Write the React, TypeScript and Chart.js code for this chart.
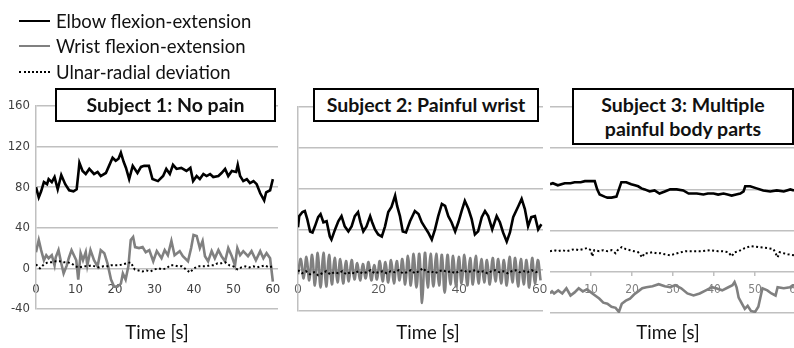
import React, { useEffect, useRef } from "react";
import { Chart, registerables } from "chart.js";

Chart.register(...registerables);

type Pt = [number, number];

// ---------- Subject 1: No pain ----------
const P1_ELBOW: Pt[] = [
  [0, 80], [0.7, 70], [1.3, 76], [2, 85], [2.8, 83], [3.2, 88], [4, 85], [4.7, 90], [5.5, 78], [6.4, 92],
  [7.4, 83], [8.4, 77], [9.5, 76], [10.3, 78], [10.8, 96], [11, 104], [11.8, 96], [12.6, 93], [13.5, 98], [14.7, 93],
  [15.6, 95], [16.4, 91], [17.7, 94], [18.5, 101], [19.4, 109], [20.2, 106], [20.9, 108], [21.5, 114], [22.2, 105], [22.8, 99],
  [23.6, 88], [24.5, 101], [25.7, 94], [26.6, 100], [27.4, 101], [28.6, 101], [29.5, 88], [30.9, 86], [32.2, 91], [33, 98],
  [33.9, 93], [34.7, 102], [35.6, 98], [36.8, 99], [38.1, 96], [39.1, 99], [39.8, 86], [40.7, 91], [41.5, 88], [42.4, 93],
  [43.2, 91], [44.1, 93], [44.9, 90], [46.2, 91], [47, 94], [47.9, 98], [48.7, 91], [49.6, 96], [50.7, 95], [51.1, 102],
  [51.7, 91], [52.5, 86], [53.4, 88], [54.2, 84], [55.1, 86], [55.9, 83], [56.8, 74], [57.8, 67], [58.3, 75], [59.3, 77],
  [60, 88],
];
const P1_WRIST: Pt[] = [
  [0, 16], [0.7, 28], [1.3, 18], [2, 8], [2.6, 13], [3.2, 10], [4, 13], [4.7, 3], [5, 11], [5.7, 18],
  [6.4, 5], [7, -5], [7.8, 3], [8.3, 10], [9, 18], [9.6, 13], [10.2, 8], [10.7, -11], [11.3, 15], [11.9, 8],
  [12.6, 16], [13, 3], [13.8, 18], [14.7, 8], [15.6, 2], [16.4, 18], [17.3, 15], [18.1, 5], [19, -11], [19.8, -18],
  [20.6, -18], [21.5, -15], [22, -5], [22.7, -11], [23.4, 2], [24, 28], [24.6, 31], [25.1, 21], [26.1, 20], [27, 21],
  [27.8, 16], [28.7, 18], [29.7, 7], [30.6, 17], [31.8, 10], [32.6, 18], [33.4, 13], [34.3, 27], [35.1, 13], [36.4, 17],
  [37.2, 12], [38.5, 7], [39.3, 20], [39.9, 33], [40.7, 32], [41.5, 20], [42.2, 27], [42.8, 12], [43.6, 7], [44.5, 17],
  [45.3, 10], [46.2, 18], [47, 12], [47.9, 7], [48.7, 20], [49.6, 12], [50.4, 3], [51, 20], [51.7, 13], [52.5, 17],
  [53.7, 12], [54.6, 17], [55.7, 8], [56.8, 17], [57.6, 10], [58.4, 15], [59.3, 10], [60, -13],
];
const P1_ULNAR: Pt[] = [
  [0, 4], [1, 0], [2, 4], [3, 6], [4, 6], [5, 7], [6, 7], [7, 6], [8, 6], [9, 5], [10, 2], [11, 1], [12, 2],
  [13, 2], [14, 3], [15, 2], [16, 1], [17, 2], [18, 2], [19, 3], [20, 3], [21, 3], [22, 4], [23, 5], [24, 6],
  [25, -1], [26, -2], [27, -3], [28, -2], [29, -3], [30, -1], [31, 0], [32, -1], [33, 0], [34, 3], [35, 3],
  [36, 2], [37, 2], [38, -1], [39, -4], [40, 0], [41, 2], [42, 2], [43, 2], [44, 3], [45, 3], [46, 5], [47, 5],
  [48, 6], [49, 3], [50, 2], [51, -1], [52, 1], [53, 2], [54, 1], [55, 2], [56, 1], [57, 2], [58, 3], [59, 1], [60, 2],
];

// ---------- Subject 2: Painful wrist ----------
const P2_ELBOW: Pt[] = [
  [0, 42], [0.3, 53], [1.1, 57], [1.7, 58], [2.3, 50], [3, 38], [3.6, 37], [4.2, 43], [5, 52], [5.6, 55],
  [6.3, 47], [7.1, 48], [7.9, 33], [8.3, 30], [9.2, 40], [10, 48], [10.8, 53], [11.6, 43], [12.5, 38], [13.3, 43],
  [14.1, 53], [14.9, 57], [15.5, 47], [16.2, 38], [17, 43], [17.9, 53], [18.4, 47], [19.1, 40], [19.9, 35], [20.8, 33],
  [21.6, 43], [22.4, 57], [23.2, 62], [24.1, 73], [24.6, 63], [25.3, 53], [26, 38], [26.8, 37], [27.8, 48], [29, 58],
  [29.9, 55], [30.7, 47], [31.5, 42], [32.3, 37], [33.2, 30], [34, 40], [34.8, 53], [35.7, 65], [36.5, 63], [37.3, 53],
  [38.1, 47], [39, 38], [39.8, 47], [40.6, 58], [41.4, 68], [42.3, 60], [43.1, 50], [43.9, 35], [44.7, 38], [45.6, 52],
  [46.4, 58], [47.2, 53], [48.2, 40], [49.3, 53], [50.1, 47], [50.9, 37], [51.8, 28], [52.6, 37], [53.4, 52], [54.7, 63],
  [55.5, 70], [56.3, 60], [57.1, 43], [57.9, 52], [58.8, 53], [59.6, 40], [60.4, 45],
];
const P2_WRIST: Pt[] = [
  [0, -4], [0.7, 11], [1.4, -8], [2.1, 13], [2.8, -10], [3.5, 15], [4.2, -15], [4.9, 17], [5.6, -17], [6.3, 17],
  [7, -16], [7.7, 15], [8.4, -14], [9.1, 12], [9.8, -12], [10.5, 11], [11.2, -13], [11.9, 9], [12.6, -11], [13.3, 10],
  [14, -9], [14.7, 7], [15.4, -10], [16.1, 6], [16.8, -8], [17.5, 8], [18.2, -10], [18.9, 5], [19.6, -9], [20.3, 9],
  [21, -11], [21.7, 8], [22.4, -12], [23.1, 10], [23.8, -13], [24.5, 9], [25.2, -10], [25.9, 11], [26.6, -14], [27.3, 14],
  [28, -15], [28.7, 16], [29.4, -17], [30.1, 16], [30.8, -32], [31.5, 17], [32.2, -17], [32.9, 16], [33.6, -16], [34.3, 16],
  [35, -15], [35.7, 15], [36.4, -22], [37.1, 15], [37.8, -14], [38.5, 14], [39.2, -16], [39.9, 13], [40.6, -13], [41.3, 15],
  [42, -15], [42.7, 12], [43.4, -14], [44.1, 14], [44.8, -13], [45.5, 11], [46.2, -12], [46.9, 10], [47.6, -14], [48.3, 12],
  [49, -11], [49.7, 11], [50.4, -13], [51.1, 10], [51.8, -15], [52.5, 13], [53.2, -12], [53.9, 12], [54.6, -16], [55.3, 11],
  [56, -14], [56.7, 10], [57.4, -17], [58.1, 12], [58.8, -13], [59.5, 10], [60.2, -10],
];
const P2_ULNAR: Pt[] = [
  [0, 0], [1, -3], [2, -1], [3, -4], [4, -2], [5, -5], [6, -3], [7, -1], [8, -4], [9, -2], [10, -3], [11, -1],
  [12, -4], [13, -2], [14, -3], [15, -1], [16, -3], [17, -2], [18, 0], [19, -3], [20, -2], [21, -1], [22, -3],
  [23, -1], [24, -2], [25, 0], [26, -3], [27, -2], [28, 0], [29, -3], [30, -1], [31, 2], [32, -2], [33, -1],
  [34, -3], [35, -1], [36, 0], [37, -2], [38, -1], [39, -3], [40, -1], [41, 0], [42, -2], [43, -1], [44, 0],
  [45, -2], [46, -1], [47, -3], [48, -1], [49, 0], [50, -2], [51, -1], [52, -3], [53, -1], [54, 0], [55, -2],
  [56, -1], [57, -2], [58, 0], [59, -2], [60, -1],
];

// ---------- Subject 3: Multiple painful body parts ----------
const P3_ELBOW: Pt[] = [
  [0, 85], [0.7, 86], [1.9, 84], [3.6, 86], [5, 86], [6, 87], [7.5, 87], [8.5, 88], [10, 88], [10.9, 88],
  [11.5, 80], [12.1, 75], [13.3, 73], [14, 72], [15, 72], [16.2, 73], [16.8, 80], [17.4, 87], [18.6, 87], [19.8, 85],
  [20.7, 84], [21.5, 83], [22.3, 81], [23.1, 80], [24.3, 78], [25.5, 79], [26.7, 76], [28, 78], [29.3, 80], [30.9, 80],
  [32.5, 79], [33.8, 76], [35.8, 76], [37.4, 75], [38.5, 76], [39.9, 76], [41, 75], [42.3, 76], [43.3, 75], [44.3, 74],
  [45.4, 75], [46.4, 76], [47.2, 78], [47.6, 83], [48.8, 83], [50.4, 81], [52, 79], [53.7, 78], [55.3, 79], [57, 78],
  [58.6, 80], [59.5, 79],
];
const P3_WRIST: Pt[] = [
  [0, -21], [0.5, -19], [1, -21], [2, -18], [3, -21], [4, -16], [5, -23], [6, -20], [7, -16], [8, -19],
  [9, -17], [10, -20], [11, -23], [12, -26], [13, -30], [14, -31], [15, -34], [16, -35], [16.8, -39], [17.5, -31],
  [18.5, -28], [19.5, -26], [20.5, -22], [21.5, -19], [22.5, -16], [23.5, -15], [25, -14], [26.5, -12], [28, -14], [29.3, -15],
  [30.5, -13], [32, -16], [33.5, -21], [35, -23], [36.5, -21], [38, -18], [39.5, -15], [40.5, -16], [42, -18], [43.5, -15],
  [44.5, -13], [45, -10], [45.5, -15], [46, -25], [46.8, -31], [47.5, -36], [48.2, -33], [49, -38], [50, -39], [50.8, -34],
  [51.3, -25], [51.8, -16], [53, -18], [54, -21], [55, -23], [55.5, -15], [57, -16], [58.5, -15], [59.5, -13],
];
const P3_ULNAR: Pt[] = [
  [0, 20], [1, 21], [2, 20], [3, 21], [4, 20], [5, 21], [6, 22], [7, 21], [8, 22], [9, 23], [10, 21], [10.3, 15],
  [10.8, 21], [12, 20], [13, 21], [14, 20], [15, 21], [16, 18], [16.5, 21], [17.5, 24], [18.5, 22], [19.5, 21],
  [20.5, 20], [21.5, 19], [22.5, 14], [23, 18], [24, 18], [25, 19], [26, 18], [27, 18], [28, 17], [29.3, 16],
  [31, 18], [33, 20], [35, 20], [37, 20], [39, 21], [41, 20], [42, 20], [43.5, 19], [44.3, 15], [45, 19], [46, 20],
  [47, 22], [47.5, 23], [49, 25], [51, 24], [53, 23], [54.5, 22], [55.5, 14], [56, 19], [57, 18], [58, 17], [59.5, 16],
];

// ---------- axes / labels ----------
const Y_TICKS = [-40, 0, 40, 80, 120, 160];
const X_TICKS_P1 = [0, 10, 20, 30, 40, 50, 60];
const X_TICKS_P2 = [0, 20, 40, 60];
const X_TICKS_P3 = [10, 20, 30, 40, 50, 60];

const SERIES_NAMES = ["Elbow flexion-extension", "Wrist flexion-extension", "Ulnar-radial deviation"];
const PANEL_TITLES = ["Subject 1: No pain", "Subject 2: Painful wrist", "Subject 3: Multiple\npainful body parts"];
const X_TITLE = "Time [s]";

const GRID = "#c0c0c0";
const NARROW = "'Liberation Sans Narrow','DejaVu Sans Condensed','Liberation Sans',sans-serif";
const UI_FONT = "Lato, 'Open Sans', sans-serif";

type PanelProps = {
  left: number; top: number; width: number; height: number;
  padding: { left: number; right: number; top: number; bottom: number };
  yAxisWidth: number; showYLabels: boolean; showYBorder: boolean;
  xMax: number; xTicks: number[];
  xFont: { family: string; size: number }; xColor: string; xPadding: number; xTickMarks: boolean;
  elbow: Pt[]; wrist: Pt[]; ulnar: Pt[]; wristTension: number;
};

const toXY = (a: Pt[]) => a.map(([x, y]) => ({ x, y }));

function Panel(p: PanelProps) {
  const ref = useRef<HTMLCanvasElement | null>(null);
  useEffect(() => {
    if (!ref.current) return;
    const chart = new Chart(ref.current, {
      type: "line",
      data: {
        datasets: [
          { label: SERIES_NAMES[0], data: toXY(p.elbow), borderColor: "#000", borderWidth: 2.6, pointRadius: 0, tension: 0 },
          { label: SERIES_NAMES[2], data: toXY(p.ulnar), borderColor: "#000", borderWidth: 2, borderDash: [2, 2.5], pointRadius: 0, tension: 0 },
          { label: SERIES_NAMES[1], data: toXY(p.wrist), borderColor: "#808080", borderWidth: 2.6, pointRadius: 0, tension: p.wristTension },
        ],
      },
      options: {
        animation: false,
        responsive: false,
        maintainAspectRatio: false,
        layout: { padding: p.padding },
        plugins: { legend: { display: false }, tooltip: { enabled: false } },
        scales: {
          x: {
            type: "linear",
            min: 0,
            max: p.xMax,
            position: { y: 0 } as any,
            grid: { display: p.xTickMarks, drawOnChartArea: false, drawTicks: p.xTickMarks, tickLength: 4, color: GRID, lineWidth: 1.5 },
            border: { display: false },
            afterBuildTicks: (s: any) => { s.ticks = p.xTicks.map((v) => ({ value: v })); },
            afterFit: (s: any) => { s.paddingLeft = 0; s.paddingRight = 0; },
            ticks: { font: p.xFont, color: p.xColor, padding: p.xPadding, maxRotation: 0, autoSkip: false },
          },
          y: {
            type: "linear",
            min: -40,
            max: 160,
            afterBuildTicks: (s: any) => { s.ticks = Y_TICKS.map((v) => ({ value: v })); },
            afterFit: (s: any) => { s.width = p.yAxisWidth; s.paddingTop = 0; s.paddingBottom = 0; },
            grid: { color: GRID, lineWidth: 1.5, drawTicks: false },
            border: { display: p.showYBorder, color: GRID, width: 1.5 },
            ticks: { display: p.showYLabels, font: { family: NARROW, size: 13 }, color: "#404040", padding: 6 },
          },
        },
      },
    } as any);
    return () => chart.destroy();
  }, []);
  return (
    <canvas
      ref={ref}
      width={p.width}
      height={p.height}
      style={{ position: "absolute", left: p.left, top: p.top, width: p.width, height: p.height, display: "block" }}
    />
  );
}

const boxStyle = (left: number, top: number, width: number, height: number): React.CSSProperties => ({
  position: "absolute", left, top, width, height, boxSizing: "border-box", border: "2px solid #000",
  background: "#fff", display: "flex", alignItems: "center", justifyContent: "center", textAlign: "center",
  font: `bold 19.5px ${UI_FONT}`, color: "#111", lineHeight: "24px", whiteSpace: "pre-line",
});

const textStyle = (left: number, top: number): React.CSSProperties => ({
  position: "absolute", left, top, font: `18.5px ${UI_FONT}`, color: "#111", whiteSpace: "nowrap", lineHeight: "22px",
});

const centeredText = (cx: number, top: number): React.CSSProperties => ({
  position: "absolute", left: cx - 60, width: 120, top, textAlign: "center", font: `18.5px ${UI_FONT}`, color: "#111", lineHeight: "22px",
});

export default function App() {
  return (
    <div style={{ position: "absolute", left: 0, top: 0, width: 794, height: 348, overflow: "hidden", background: "#fff" }}>
      <Panel
        left={0} top={90} width={290} height={235}
        padding={{ left: 6, right: 12, top: 16, bottom: 16 }}
        yAxisWidth={30} showYLabels={true} showYBorder={true}
        xMax={61.3} xTicks={X_TICKS_P1}
        xFont={{ family: NARROW, size: 13 }} xColor="#404040" xPadding={13} xTickMarks={false}
        elbow={P1_ELBOW} wrist={P1_WRIST} ulnar={P1_ULNAR} wristTension={0}
      />
      <Panel
        left={290} top={90} width={260} height={240}
        padding={{ left: 8, right: 7, top: 17, bottom: 19 }}
        yAxisWidth={0} showYLabels={false} showYBorder={true}
        xMax={60.8} xTicks={X_TICKS_P2}
        xFont={{ family: "'Open Sans', sans-serif", size: 13 }} xColor="#595959" xPadding={11} xTickMarks={false}
        elbow={P2_ELBOW} wrist={P2_WRIST} ulnar={P2_ULNAR} wristTension={0.4}
      />
      <Panel
        left={545} top={90} width={265} height={240}
        padding={{ left: 5, right: 0, top: 17, bottom: 17 }}
        yAxisWidth={0} showYLabels={false} showYBorder={false}
        xMax={63.4} xTicks={X_TICKS_P3}
        xFont={{ family: NARROW, size: 12 }} xColor="#808080" xPadding={7} xTickMarks={true}
        elbow={P3_ELBOW} wrist={P3_WRIST} ulnar={P3_ULNAR} wristTension={0}
      />

      {/* legend */}
      <div style={{ position: "absolute", left: 19, top: 20, width: 31, height: 0, borderTop: "2.5px solid #000" }} />
      <div style={{ position: "absolute", left: 19, top: 45, width: 31, height: 0, borderTop: "2.5px solid #808080" }} />
      <div style={{ position: "absolute", left: 19, top: 71, width: 31, height: 0, borderTop: "2px dotted #000" }} />
      <div style={textStyle(56, 10)}>{SERIES_NAMES[0]}</div>
      <div style={textStyle(56, 35)}>{SERIES_NAMES[1]}</div>
      <div style={textStyle(56, 61)}>{SERIES_NAMES[2]}</div>

      {/* panel titles */}
      <div style={boxStyle(55, 88, 221, 34)}>{PANEL_TITLES[0]}</div>
      <div style={boxStyle(313, 88, 226, 34)}>{PANEL_TITLES[1]}</div>
      <div style={boxStyle(572, 88, 222, 57)}>{PANEL_TITLES[2]}</div>

      {/* axis titles */}
      <div style={centeredText(157, 321)}>{X_TITLE}</div>
      <div style={centeredText(428, 321)}>{X_TITLE}</div>
      <div style={centeredText(668, 321)}>{X_TITLE}</div>
    </div>
  );
}
